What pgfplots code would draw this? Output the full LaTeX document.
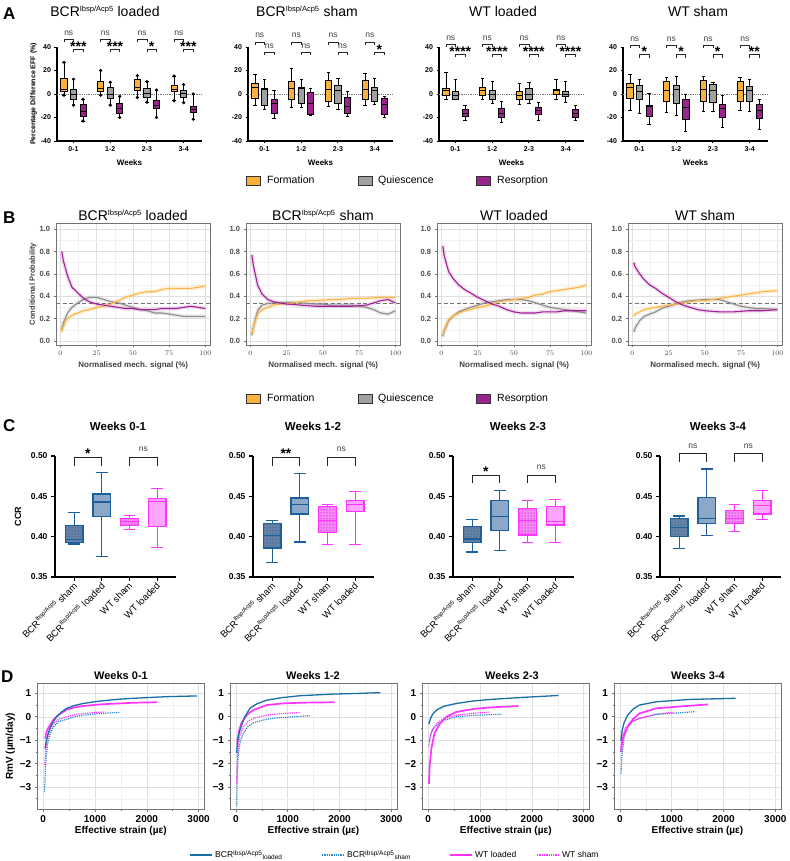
\documentclass[border=0pt]{standalone}
\usepackage{fontspec}
\setmainfont{Liberation Sans}
\usepackage{pgfplots}
\usepackage{pgfplotstable}
\pgfplotsset{compat=1.18}
\usepgfplotslibrary{statistics}
\usetikzlibrary{patterns}

\definecolor{form}{RGB}{251,176,59}
\definecolor{quie}{RGB}{160,160,160}
\definecolor{reso}{RGB}{155,35,140}
\definecolor{bform}{RGB}{253,180,70}
\definecolor{bquie}{RGB}{140,140,140}
\definecolor{breso}{RGB}{160,30,150}
\definecolor{bcr}{RGB}{28,95,155}
\definecolor{bcrfill}{RGB}{140,168,200}
\definecolor{bcrfilld}{RGB}{100,132,172}
\definecolor{wt}{RGB}{255,51,255}
\definecolor{wtfill}{RGB}{255,165,255}
\definecolor{wtfilld}{RGB}{255,130,255}
\definecolor{dblue}{RGB}{25,110,165}
\definecolor{dblue2}{RGB}{45,135,205}

% box plot from its five numbers
\newcommand{\bxp}[7]{\addplot[#2, boxplot prepared={draw position=#1, lower whisker=#3,
  lower quartile=#4, median=#5, upper quartile=#6, upper whisker=#7}] coordinates {};}
% significance bracket: x1 x2 ytop leg yshift label
\newcommand{\brk}[6]{\draw[black!85, line width=0.8pt] (axis cs:#1,{#3-#4}) -- (axis cs:#1,#3)
  -- (axis cs:#2,#3) -- (axis cs:#2,{#3-#4});
  \node[anchor=base, inner sep=0pt, yshift=#5] at (axis cs:{(#1+#2)/2},#3) {#6};}
\newcommand{\nsA}{{\fontsize{8.5}{9}\selectfont\color{black!75}ns}}
\newcommand{\stA}[1]{{\fontsize{14}{14}\selectfont\bfseries #1}}
\newcommand{\sups}[1]{\textsuperscript{\fontsize{#1}{#1}\selectfont Ibsp/Acp5}}

\pgfplotsset{
  fo/.style={draw=black, fill=form, line width=0.8pt},
  qu/.style={draw=black, fill=quie, line width=0.8pt},
  re/.style={draw=black, fill=reso, line width=0.8pt},
  aax/.style={scale only axis, width=145pt, height=94pt, xmin=0.55, xmax=4.5, ymin=-40, ymax=40,
    axis x line*=bottom, axis y line*=left, axis line style={-, line width=1.1pt},
    xtick={1,2,3,4}, xticklabels={0-1,1-2,2-3,3-4},
    ytick={-40,-20,0,20,40}, yticklabels={-40,-20,0,20,40},
    tick style={line width=0.9pt, black}, tick align=outside, major tick length=2.5pt,
    ticklabel style={font=\fontsize{7}{8}\selectfont\bfseries},
    xlabel={Weeks}, xlabel style={font=\fontsize{8}{9}\selectfont\bfseries,
      at={(axis description cs:0.5,0)}, anchor=base, yshift=-24.5pt},
    boxplot/draw direction=y, boxplot/box extend=0.17, boxplot/whisker extend=0.09,
    clip=false, anchor=south west},
  bax/.style={scale only axis, width=154.4pt, height=122pt, xmin=-3, xmax=103.5,
    ymin=-0.036, ymax=1.054, xtick={0,25,50,75,100}, ytick={0,0.2,0.4,0.6,0.8,1},
    yticklabels={0.0,0.2,0.4,0.6,0.8,1.0}, minor xtick={12.5,37.5,62.5,87.5},
    minor ytick={0.1,0.3,0.5,0.7,0.9}, grid=both,
    major grid style={black!12, line width=0.5pt}, minor grid style={black!6, line width=0.4pt},
    axis line style={black!55, line width=0.8pt}, tick style={black!55, line width=0.6pt},
    tick pos=left, tick align=outside, major tick length=2.5pt, minor tick length=0pt,
    ticklabel style={font=\fontsize{7.5}{8}\selectfont\bfseries, text=black!70},
    xlabel={Normalised mech. signal (\%)}, xlabel style={font=\fontsize{8}{9}\selectfont\bfseries,
      text=black!75, at={(axis description cs:0.5,0)}, anchor=base, yshift=-23pt},
    anchor=south west},
  cax/.style={scale only axis, width=121.3pt, height=121pt, xmin=0.31, xmax=4.69, ymin=0.35, ymax=0.50,
    axis x line*=bottom, axis y line*=left, axis line style={-, line width=1.2pt},
    ytick={0.35,0.40,0.45,0.50}, yticklabels={0.35,0.40,0.45,0.50}, xtick={1,2,3,4},
    xticklabels={BCR\sups{6} sham, BCR\sups{6} loaded, WT sham, WT loaded},
    xticklabel style={rotate=45, anchor=east, font=\fontsize{9.5}{10}\selectfont, yshift=-3pt, xshift=2pt},
    yticklabel style={font=\fontsize{8.5}{9}\selectfont\bfseries},
    tick style={line width=1.1pt, black}, tick align=outside, major tick length=4pt,
    boxplot/draw direction=y, boxplot/box extend=0.64, boxplot/whisker extend=0.42,
    clip=false, anchor=south west},
  cbs/.style={draw=bcr, fill=bcrfilld, line width=1.2pt,
    boxplot/every box/.style={postaction={pattern=dots, pattern color=black!80}}},
  cbl/.style={draw=bcr, fill=bcrfill, line width=1.2pt},
  cws/.style={draw=wt, fill=wtfilld, line width=1.2pt,
    boxplot/every box/.style={postaction={pattern=dots, pattern color=black!80}}},
  cwl/.style={draw=wt, fill=wtfill, line width=1.2pt},
  dax/.style={scale only axis, width=167pt, height=126pt, xmin=-115, xmax=3110, ymin=-3.95, ymax=1.43,
    xtick={0,1000,2000,3000}, xticklabels={0,1000,2000,3000}, minor xtick={500,1500,2500},
    ytick={-3,-2,-1,0,1}, yticklabels={−3,−2,−1,0,1}, minor ytick={-3.5,-2.5,-1.5,-0.5,0.5},
    grid=both, major grid style={black!12, line width=0.5pt}, minor grid style={black!6, line width=0.4pt},
    axis line style={black!55, line width=0.8pt}, tick style={black!55, line width=0.6pt},
    tick pos=left, tick align=outside, major tick length=2.5pt, minor tick length=1.5pt,
    ticklabel style={font=\fontsize{10}{10}\selectfont\bfseries},
    xlabel={Effective strain (µε)}, xlabel style={font=\fontsize{10}{11}\selectfont\bfseries,
      at={(axis description cs:0.5,0)}, anchor=base, yshift=-24pt},
    anchor=south west},
  dbl/.style={dblue, line width=1.3pt},
  dbs/.style={dblue2, line width=1.2pt, densely dotted},
  dwl/.style={wt, line width=1.7pt},
  dws/.style={wt, line width=1.2pt, densely dotted},
}

% panel B curves: x, formation, quiescence, resorption
\pgfplotstableread{
x F Q R
1 0.08 0.10 0.80
2 0.13 0.16 0.72
5 0.20 0.25 0.58
8 0.23 0.30 0.48
12 0.25 0.34 0.43
16 0.27 0.37 0.38
20 0.28 0.39 0.35
25 0.30 0.39 0.33
30 0.31 0.37 0.32
35 0.33 0.35 0.31
40 0.36 0.34 0.30
45 0.39 0.32 0.29
50 0.41 0.30 0.29
55 0.43 0.28 0.28
60 0.44 0.27 0.28
65 0.44 0.25 0.28
70 0.46 0.25 0.29
75 0.47 0.24 0.29
80 0.47 0.23 0.29
85 0.47 0.22 0.30
90 0.47 0.22 0.31
95 0.48 0.22 0.30
100 0.49 0.22 0.29
}\tBa
\pgfplotstableread{
x F Q R
1 0.06 0.05 0.77
2 0.12 0.12 0.68
5 0.24 0.27 0.50
8 0.28 0.32 0.42
12 0.30 0.335 0.37
16 0.32 0.34 0.35
20 0.33 0.34 0.34
25 0.335 0.345 0.33
30 0.34 0.345 0.325
35 0.35 0.34 0.32
40 0.36 0.335 0.315
45 0.36 0.33 0.31
50 0.365 0.33 0.31
55 0.37 0.32 0.31
60 0.37 0.32 0.31
65 0.375 0.32 0.31
70 0.38 0.32 0.31
75 0.38 0.31 0.315
80 0.38 0.30 0.32
85 0.385 0.28 0.34
90 0.39 0.25 0.36
95 0.39 0.24 0.37
100 0.39 0.27 0.34
}\tBb
\pgfplotstableread{
x F Q R
1 0.05 0.04 0.85
2 0.10 0.09 0.76
5 0.19 0.18 0.62
8 0.22 0.22 0.56
12 0.25 0.26 0.50
16 0.27 0.28 0.46
20 0.28 0.30 0.43
25 0.30 0.32 0.39
30 0.31 0.34 0.36
35 0.33 0.35 0.33
40 0.35 0.36 0.31
45 0.36 0.37 0.28
50 0.37 0.37 0.26
55 0.38 0.37 0.25
60 0.39 0.36 0.25
65 0.41 0.34 0.25
70 0.42 0.32 0.26
75 0.44 0.30 0.26
80 0.45 0.29 0.26
85 0.46 0.28 0.27
90 0.47 0.27 0.27
95 0.48 0.26 0.27
100 0.50 0.25 0.27
}\tBc
\pgfplotstableread{
x F Q R
1 0.22 0.08 0.70
2 0.24 0.12 0.66
5 0.26 0.18 0.60
8 0.28 0.22 0.55
12 0.29 0.24 0.50
16 0.30 0.26 0.47
20 0.31 0.29 0.43
25 0.32 0.31 0.39
30 0.33 0.33 0.35
35 0.34 0.35 0.32
40 0.35 0.36 0.30
45 0.36 0.365 0.28
50 0.36 0.37 0.27
55 0.37 0.37 0.265
60 0.38 0.37 0.26
65 0.39 0.35 0.26
70 0.40 0.33 0.26
75 0.41 0.31 0.265
80 0.42 0.30 0.27
85 0.43 0.29 0.27
90 0.44 0.29 0.27
95 0.445 0.285 0.275
100 0.45 0.28 0.28
}\tBd

\newcommand{\bcurves}[1]{%
  \addplot[bquie, line width=4pt, opacity=0.18] table[x=x,y=Q]{#1};
  \addplot[bform, line width=4pt, opacity=0.22] table[x=x,y=F]{#1};
  \addplot[breso, line width=4pt, opacity=0.15] table[x=x,y=R]{#1};
  \addplot[black!55, line width=0.8pt, dash pattern=on 4pt off 2.5pt] coordinates {(-3,0.333) (103.5,0.333)};
  \addplot[bquie, line width=1.1pt] table[x=x,y=Q]{#1};
  \addplot[bform, line width=1.1pt] table[x=x,y=F]{#1};
  \addplot[breso, line width=1.1pt] table[x=x,y=R]{#1};}

\begin{document}
\begin{tikzpicture}[x=1pt, y=1pt]
\useasboundingbox (0,0) rectangle (789,861);

% ---------------- panel A ----------------
\begin{axis}[aax, at={(57pt,720pt)}, ylabel={Percentage Difference EFF (\%)},
  ylabel style={font=\fontsize{7}{8}\selectfont\bfseries, at={(axis description cs:-0.162,0.5)}, anchor=center}]
\addplot[black!55, densely dotted, line width=0.8pt] coordinates {(0.55,0) (4.5,0)};
\bxp{0.74}{fo}{-1}{2}{4}{13}{27}
\bxp{1}{qu}{-9.5}{-5}{0}{4}{12.5}
\bxp{1.26}{re}{-23}{-19}{-14.5}{-9}{-4.5}
\bxp{1.74}{fo}{-1}{2}{5}{10.5}{20}
\bxp{2}{qu}{-9.5}{-4}{0}{5.7}{10}
\bxp{2.26}{re}{-20}{-16.5}{-12}{-8}{-2}
\bxp{2.74}{fo}{-3}{3}{5.7}{12.8}{15.6}
\bxp{3}{qu}{-7}{-3}{0.5}{4.5}{10.5}
\bxp{3.26}{re}{-20}{-12}{-9.4}{-5.7}{3.4}
\bxp{3.74}{fo}{-5.7}{2}{4}{7}{15.3}
\bxp{4}{qu}{-7.4}{-3}{0.5}{3.4}{8}
\bxp{4.26}{re}{-21.5}{-15.3}{-13}{-10.8}{0}
\addplot[only marks, mark=*, mark size=1.4pt, black] coordinates {
  (0.74,-1) (0.74,27) (1,-9.5) (1,12.5) (1.26,-23) (1.26,-4.5)
  (1.74,-1) (1.74,20) (2,-9.5) (2,10) (2.26,-20) (2.26,-2)
  (2.74,-3) (2.74,15.6) (3,-7) (3,10.5) (3.26,-20) (3.26,3.4)
  (3.74,-5.7) (3.74,15.3) (4,-7.4) (4,8) (4.26,-21.5) (4.26,0)};
\brk{0.74}{1}{46.5}{2.4}{4pt}{\nsA}
\brk{1}{1.26}{38}{2.4}{-2pt}{\stA{***}}
\brk{1.74}{2}{46.5}{2.4}{4pt}{\nsA}
\brk{2}{2.26}{38}{2.4}{-2pt}{\stA{***}}
\brk{2.74}{3}{46.5}{2.4}{4pt}{\nsA}
\brk{3}{3.26}{38}{2.4}{-2pt}{\stA{*}}
\brk{3.74}{4}{46.5}{2.4}{4pt}{\nsA}
\brk{4}{4.26}{38}{2.4}{-2pt}{\stA{***}}
\end{axis}

\begin{axis}[aax, at={(248pt,720pt)}]
\addplot[black!55, densely dotted, line width=0.8pt] coordinates {(0.55,0) (4.5,0)};
\bxp{0.74}{fo}{-10}{-3.4}{6}{9.4}{16.6}
\bxp{1}{qu}{-12.8}{-10}{3.7}{5}{12.3}
\bxp{1.26}{re}{-21}{-16.3}{-7.7}{-4.3}{3}
\bxp{1.74}{fo}{-11}{-5}{5}{10.9}{21.4}
\bxp{2}{qu}{-11.4}{-7.7}{5}{6}{12}
\bxp{2.26}{re}{-18.6}{-17.7}{-7.7}{1}{5}
\bxp{2.74}{fo}{-10.6}{-6.3}{4.3}{11.7}{18.6}
\bxp{3}{qu}{-13.4}{-7.7}{3}{7}{12.9}
\bxp{3.26}{re}{-19}{-16.3}{-10.6}{-2.6}{2.3}
\bxp{3.74}{fo}{-10}{-4.3}{3.7}{11.7}{17.4}
\bxp{4}{qu}{-9}{-6.3}{3}{6}{12.9}
\bxp{4.26}{re}{-20}{-17.7}{-8.6}{-3.4}{-2}
\brk{0.74}{1}{44.3}{2.4}{4pt}{\nsA}
\brk{1}{1.26}{35.6}{2.4}{4pt}{\nsA}
\brk{1.74}{2}{44.3}{2.4}{4pt}{\nsA}
\brk{2}{2.26}{35.6}{2.4}{4pt}{\nsA}
\brk{2.74}{3}{44.3}{2.4}{4pt}{\nsA}
\brk{3}{3.26}{35.6}{2.4}{4pt}{\nsA}
\brk{3.74}{4}{44.3}{2.4}{4pt}{\nsA}
\brk{4}{4.26}{35.6}{2.4}{-2pt}{\stA{*}}
\end{axis}

\begin{axis}[aax, at={(439pt,720pt)}]
\addplot[black!55, densely dotted, line width=0.8pt] coordinates {(0.55,0) (4.5,0)};
\bxp{0.74}{fo}{-4.5}{-1}{2.8}{4.8}{18.4}
\bxp{1}{qu}{-5}{-4.3}{-1}{2}{12}
\bxp{1.26}{re}{-22.7}{-19.3}{-16.5}{-12.8}{-10}
\bxp{1.74}{fo}{-4.3}{-1.4}{3.4}{5.7}{13}
\bxp{2}{qu}{-8}{-4.3}{0}{3.4}{10.5}
\bxp{2.26}{re}{-24.4}{-20}{-16.5}{-12.5}{-6.5}
\bxp{2.74}{fo}{-8.8}{-4.3}{-1}{2.6}{9.4}
\bxp{3}{qu}{-8}{-4.5}{0}{4.8}{10}
\bxp{3.26}{re}{-22.7}{-17}{-13.6}{-11.4}{-7.4}
\bxp{3.74}{fo}{-5}{0}{2.8}{4}{12.8}
\bxp{4}{qu}{-7}{-2.3}{0}{2}{10.5}
\bxp{4.26}{re}{-22.7}{-20}{-16.5}{-12.8}{-10}
\brk{0.74}{1}{42.3}{2.4}{4pt}{\nsA}
\brk{1}{1.26}{33.8}{2.4}{-2pt}{\stA{****}}
\brk{1.74}{2}{42.3}{2.4}{4pt}{\nsA}
\brk{2}{2.26}{33.8}{2.4}{-2pt}{\stA{****}}
\brk{2.74}{3}{42.3}{2.4}{4pt}{\nsA}
\brk{3}{3.26}{33.8}{2.4}{-2pt}{\stA{****}}
\brk{3.74}{4}{42.3}{2.4}{4pt}{\nsA}
\brk{4}{4.26}{33.8}{2.4}{-2pt}{\stA{****}}
\end{axis}

\begin{axis}[aax, at={(623pt,720pt)}]
\addplot[black!55, densely dotted, line width=0.8pt] coordinates {(0.55,0) (4.5,0)};
\bxp{0.74}{fo}{-13.6}{-3.7}{5.7}{9}{17}
\bxp{1}{qu}{-16.5}{-4.5}{2}{7.7}{12.8}
\bxp{1.26}{re}{-25.8}{-18.7}{-10.8}{-9.4}{0.6}
\bxp{1.74}{fo}{-15.6}{-6.5}{2.8}{10.5}{14}
\bxp{2}{qu}{-17.9}{-8}{4}{7.7}{14.8}
\bxp{2.26}{re}{-31.5}{-21.3}{-11.4}{-4.3}{0}
\bxp{2.74}{fo}{-14.5}{-6.5}{4}{11.3}{14.8}
\bxp{3}{qu}{-14.5}{-7.4}{2.8}{8.5}{10}
\bxp{3.26}{re}{-28.6}{-20}{-12.2}{-8.5}{-1.4}
\bxp{3.74}{fo}{-13.6}{-6.5}{2.8}{11}{14}
\bxp{4}{qu}{-15}{-6.5}{2.8}{6.8}{12}
\bxp{4.26}{re}{-30}{-20.7}{-13.6}{-8.5}{-5}
\brk{0.74}{1}{41.6}{2.4}{4pt}{\nsA}
\brk{1}{1.26}{33.3}{2.4}{-2pt}{\stA{*}}
\brk{1.74}{2}{41.6}{2.4}{4pt}{\nsA}
\brk{2}{2.26}{33.3}{2.4}{-2pt}{\stA{*}}
\brk{2.74}{3}{41.6}{2.4}{4pt}{\nsA}
\brk{3}{3.26}{33.3}{2.4}{-2pt}{\stA{*}}
\brk{3.74}{4}{41.6}{2.4}{4pt}{\nsA}
\brk{4}{4.26}{33.3}{2.4}{-2pt}{\stA{**}}
\end{axis}

% ---------------- panel B ----------------
\begin{axis}[bax, at={(56pt,516pt)}, ylabel={Conditional Probability},
  ylabel style={font=\fontsize{7.5}{8}\selectfont\bfseries, text=black!75, at={(axis description cs:-0.149,0.5)}, anchor=center}]
\bcurves{\tBa}
\end{axis}
\begin{axis}[bax, at={(246pt,516pt)}]
\bcurves{\tBb}
\end{axis}
\begin{axis}[bax, at={(437pt,516pt)}]
\bcurves{\tBc}
\end{axis}
\begin{axis}[bax, at={(628pt,516pt)}]
\bcurves{\tBd}
\end{axis}

% ---------------- panel C ----------------
\begin{axis}[cax, at={(55pt,284pt)}, ylabel={CCR},
  ylabel style={font=\fontsize{9}{10}\selectfont\bfseries, at={(axis description cs:-0.305,0.5)}, anchor=center}]
\bxp{1}{cbs}{0.391}{0.393}{0.396}{0.414}{0.430}
\bxp{2}{cbl}{0.375}{0.425}{0.443}{0.453}{0.480}
\bxp{3}{cws}{0.409}{0.414}{0.419}{0.423}{0.426}
\bxp{4}{cwl}{0.387}{0.4125}{0.444}{0.4475}{0.460}
\brk{1}{2}{0.4987}{0.011}{-1pt}{\stA{*}}
\brk{3}{4}{0.4987}{0.011}{5.5pt}{\nsA}
\end{axis}
\begin{axis}[cax, at={(253pt,284pt)}]
\bxp{1}{cbs}{0.368}{0.386}{0.401}{0.4165}{0.420}
\bxp{2}{cbl}{0.3935}{0.428}{0.440}{0.448}{0.478}
\bxp{3}{cws}{0.390}{0.4054}{0.420}{0.437}{0.440}
\bxp{4}{cwl}{0.390}{0.431}{0.440}{0.445}{0.4555}
\brk{1}{2}{0.4987}{0.011}{-1pt}{\stA{**}}
\brk{3}{4}{0.4987}{0.011}{5.5pt}{\nsA}
\end{axis}
\begin{axis}[cax, at={(453pt,284pt)}]
\bxp{1}{cbs}{0.381}{0.3926}{0.397}{0.4123}{0.4215}
\bxp{2}{cbl}{0.3827}{0.408}{0.425}{0.4444}{0.4568}
\bxp{3}{cws}{0.3926}{0.402}{0.420}{0.435}{0.445}
\bxp{4}{cwl}{0.3926}{0.4145}{0.4185}{0.437}{0.4465}
\brk{1}{2}{0.476}{0.010}{-1pt}{\stA{*}}
\brk{3}{4}{0.476}{0.010}{5.5pt}{\nsA}
\end{axis}
\begin{axis}[cax, at={(660pt,284pt)}]
\bxp{1}{cbs}{0.3857}{0.400}{0.4116}{0.4222}{0.4255}
\bxp{2}{cbl}{0.4012}{0.4165}{0.423}{0.4486}{0.484}
\bxp{3}{cws}{0.406}{0.4165}{0.423}{0.432}{0.440}
\bxp{4}{cwl}{0.421}{0.428}{0.439}{0.445}{0.4568}
\brk{1}{2}{0.503}{0.0105}{5.5pt}{\nsA}
\brk{3}{4}{0.503}{0.0105}{5.5pt}{\nsA}
\end{axis}

% ---------------- panel D ----------------
\begin{axis}[dax, at={(37.3pt,51.7pt)}, ylabel={RmV (µm/day)},
  ylabel style={font=\fontsize{10}{11}\selectfont\bfseries, at={(axis description cs:-0.162,0.5)}, anchor=center}]
\addplot[dbs] coordinates {(25,-3.2) (40,-2.3) (60,-1.6) (90,-1.1) (130,-0.75) (194,-0.43) (300,-0.2) (452,-0.11) (600,0) (774,0.07) (1097,0.14) (1470,0.19)};
\addplot[dws] coordinates {(30,-2.07) (50,-1.4) (80,-0.95) (120,-0.6) (194,-0.29) (300,-0.1) (452,0) (600,0.08) (774,0.14) (1000,0.18) (1194,0.21)};
\addplot[dwl] coordinates {(35,-0.93) (60,-0.68) (90,-0.5) (129,-0.36) (200,-0.12) (290,0.07) (452,0.31) (600,0.4) (774,0.46) (1097,0.53) (1742,0.6) (2194,0.62)};
\addplot[dbl] coordinates {(35,-1.36) (60,-1.0) (90,-0.75) (129,-0.5) (180,-0.25) (258,0) (350,0.2) (452,0.36) (600,0.48) (774,0.57) (1097,0.67) (1400,0.74) (1742,0.79) (2387,0.86) (2968,0.89)};
\end{axis}
\begin{axis}[dax, at={(230pt,51.7pt)}]
\addplot[dbs] coordinates {(13,-3.83) (25,-2.4) (45,-1.6) (80,-1.1) (142,-0.71) (230,-0.42) (335,-0.26) (594,-0.1) (900,-0.03) (1239,0.02) (1432,0.05)};
\addplot[dws] coordinates {(13,-2.86) (25,-1.9) (45,-1.2) (80,-0.8) (142,-0.43) (230,-0.2) (335,-0.07) (594,0.07) (900,0.14) (1239,0.18)};
\addplot[dwl] coordinates {(26,-1.07) (60,-0.6) (100,-0.3) (142,-0.14) (220,0.1) (335,0.29) (594,0.5) (900,0.57) (1239,0.6) (1903,0.62)};
\addplot[dbl] coordinates {(15,-1.54) (30,-1.05) (60,-0.7) (97,-0.43) (170,0) (271,0.36) (400,0.55) (594,0.71) (900,0.82) (1239,0.9) (1884,0.97) (2400,1.0) (2787,1.03)};
\end{axis}
\begin{axis}[dax, at={(422.3pt,51.7pt)}]
\addplot[dbs] coordinates {(19,-1.07) (50,-0.75) (100,-0.5) (161,-0.36) (300,-0.15) (548,0) (850,0.06) (1194,0.09) (1419,0.11)};
\addplot[dws] coordinates {(10,-1.29) (30,-0.95) (70,-0.6) (161,-0.29) (300,-0.07) (548,0.07) (850,0.15) (1180,0.2)};
\addplot[dwl] coordinates {(13,-2.86) (30,-2.0) (65,-1.29) (120,-0.7) (226,-0.29) (350,0.0) (548,0.21) (900,0.34) (1194,0.4) (1742,0.46)};
\addplot[dbl] coordinates {(13,-0.31) (40,-0.1) (80,0.1) (161,0.29) (300,0.45) (548,0.57) (850,0.67) (1194,0.74) (1839,0.83) (2516,0.91)};
\end{axis}
\begin{axis}[dax, at={(614pt,51.7pt)}]
\addplot[dbs] coordinates {(19,-2.43) (40,-1.6) (80,-0.9) (148,-0.43) (250,-0.2) (374,-0.07) (697,0.1) (1342,0.2) (1439,0.22)};
\addplot[dws] coordinates {(19,-1.29) (50,-0.85) (100,-0.5) (200,-0.22) (374,-0.07) (697,0.11) (1019,0.19)};
\addplot[dwl] coordinates {(19,-1.5) (40,-1.1) (80,-0.75) (148,-0.43) (250,-0.1) (374,0.14) (697,0.36) (1342,0.47) (1697,0.53)};
\addplot[dbl] coordinates {(19,-1.03) (40,-0.6) (80,-0.25) (148,0.07) (250,0.32) (374,0.5) (697,0.64) (1342,0.74) (2232,0.79)};
\end{axis}

% ---------------- titles, letters, legends ----------------
\begin{scope}[every node/.style={inner sep=0pt}]
\node[anchor=base west, font=\fontsize{17}{17}\selectfont\bfseries] at (3,841) {A};
\node[anchor=base west, font=\fontsize{17}{17}\selectfont\bfseries] at (3,637) {B};
\node[anchor=base west, font=\fontsize{17}{17}\selectfont\bfseries] at (3,429) {C};
\node[anchor=base west, font=\fontsize{17}{17}\selectfont\bfseries] at (1,178) {D};

\begin{scope}[every node/.append style={anchor=base, font=\fontsize{14}{14}\selectfont}]
\node at (105,844) {BCR\sups{7.5} loaded};
\node at (307,844) {BCR\sups{7.5} sham};
\node at (503,844) {WT loaded};
\node at (698,844) {WT sham};
\node at (133,640) {BCR\sups{7.5} loaded};
\node at (323,640) {BCR\sups{7.5} sham};
\node at (514,640) {WT loaded};
\node at (705,640) {WT sham};
\end{scope}
\begin{scope}[every node/.append style={anchor=base, font=\fontsize{11.5}{12}\selectfont\bfseries}]
\node at (118,430.3) {Weeks 0-1};
\node at (313,430.3) {Weeks 1-2};
\node at (518,430.3) {Weeks 2-3};
\node at (718,430.3) {Weeks 3-4};
\end{scope}
\begin{scope}[every node/.append style={anchor=base, font=\fontsize{11}{12}\selectfont\bfseries}]
\node at (121,181) {Weeks 0-1};
\node at (313,181) {Weeks 1-2};
\node at (512,181) {Weeks 2-3};
\node at (698,181) {Weeks 3-4};
\end{scope}

% legends of A and B
\foreach \yc/\yb in {680.5/677.5, 462.5/459.3}{
  \draw[black!80, line width=0.7pt, fill=form] (246,\yc-4.5) rectangle (260,\yc+4.5);
  \node[anchor=base west, font=\fontsize{10.5}{11}\selectfont] at (267,\yb) {Formation};
  \draw[black!80, line width=0.7pt, fill=quie] (358,\yc-4.5) rectangle (372,\yc+4.5);
  \node[anchor=base west, font=\fontsize{10.5}{11}\selectfont] at (378,\yb) {Quiescence};
  \draw[black!80, line width=0.7pt, fill=reso] (476,\yc-4.5) rectangle (490,\yc+4.5);
  \node[anchor=base west, font=\fontsize{10.5}{11}\selectfont] at (497,\yb) {Resorption};
}

% legend of D
\begin{scope}[every node/.append style={anchor=base west, font=\fontsize{8.5}{9}\selectfont}]
\draw[dblue, line width=1.5pt] (190,6) -- (212,6);
\node at (215,3) {BCR\sups{6.5}\textsubscript{\fontsize{6.5}{7}\selectfont loaded}};
\draw[dblue2, line width=1.3pt, densely dotted] (322,6) -- (343,6);
\node at (347,3) {BCR\sups{6.5}\textsubscript{\fontsize{6.5}{7}\selectfont sham}};
\draw[wt, line width=2pt] (450,6) -- (472,6);
\node at (475,3) {WT loaded};
\draw[wt, line width=1.3pt, densely dotted] (537,6) -- (558,6);
\node at (562,3) {WT sham};
\end{scope}
\end{scope}
\end{tikzpicture}
\end{document}
